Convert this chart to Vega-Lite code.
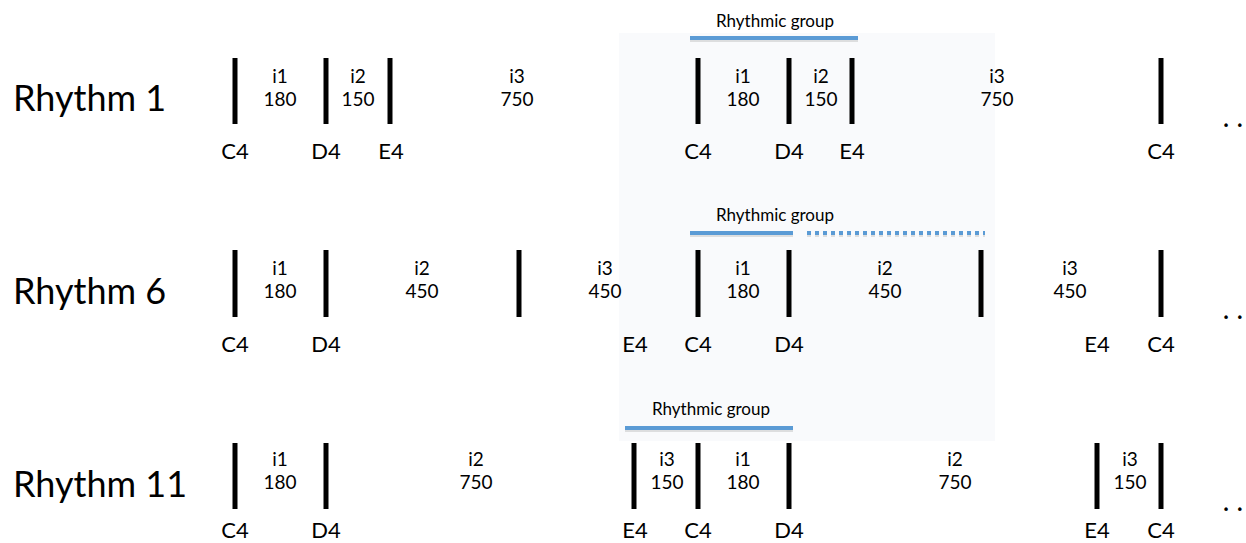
{
  "$schema": "https://vega.github.io/schema/vega-lite/v6.json",
  "autosize": {"type": "fit", "contains": "padding"},
  "width": 1246,
  "height": 543,
  "padding": 0,
  "background": "white",
  "config": {"view": {"stroke": null}, "text": {"font": "Lato"}},
  "datasets": {
    "shade": [{"x": 619, "x2": 995, "y": 33, "y2": 441}],
    "bars": [
      {"row": "Rhythm 1", "x": 235, "y": 58, "y2": 124},
      {"row": "Rhythm 1", "x": 326, "y": 58, "y2": 124},
      {"row": "Rhythm 1", "x": 390, "y": 58, "y2": 124},
      {"row": "Rhythm 1", "x": 698, "y": 58, "y2": 124},
      {"row": "Rhythm 1", "x": 789, "y": 58, "y2": 124},
      {"row": "Rhythm 1", "x": 852, "y": 58, "y2": 124},
      {"row": "Rhythm 1", "x": 1161, "y": 58, "y2": 124},
      {"row": "Rhythm 6", "x": 235, "y": 250, "y2": 317},
      {"row": "Rhythm 6", "x": 326, "y": 250, "y2": 317},
      {"row": "Rhythm 6", "x": 519, "y": 250, "y2": 317},
      {"row": "Rhythm 6", "x": 698, "y": 250, "y2": 317},
      {"row": "Rhythm 6", "x": 789, "y": 250, "y2": 317},
      {"row": "Rhythm 6", "x": 981, "y": 250, "y2": 317},
      {"row": "Rhythm 6", "x": 1161, "y": 250, "y2": 317},
      {"row": "Rhythm 11", "x": 235, "y": 443, "y2": 509},
      {"row": "Rhythm 11", "x": 326, "y": 443, "y2": 509},
      {"row": "Rhythm 11", "x": 634, "y": 443, "y2": 509},
      {"row": "Rhythm 11", "x": 698, "y": 443, "y2": 509},
      {"row": "Rhythm 11", "x": 789, "y": 443, "y2": 509},
      {"row": "Rhythm 11", "x": 1097, "y": 443, "y2": 509},
      {"row": "Rhythm 11", "x": 1161, "y": 443, "y2": 509}
    ],
    "intervals": [
      {"x": 280, "y": 88, "name": "i1", "ms": "180"},
      {"x": 358, "y": 88, "name": "i2", "ms": "150"},
      {"x": 517, "y": 88, "name": "i3", "ms": "750"},
      {"x": 743, "y": 88, "name": "i1", "ms": "180"},
      {"x": 821, "y": 88, "name": "i2", "ms": "150"},
      {"x": 997, "y": 88, "name": "i3", "ms": "750"},
      {"x": 280, "y": 280, "name": "i1", "ms": "180"},
      {"x": 422, "y": 280, "name": "i2", "ms": "450"},
      {"x": 605, "y": 280, "name": "i3", "ms": "450"},
      {"x": 743, "y": 280, "name": "i1", "ms": "180"},
      {"x": 885, "y": 280, "name": "i2", "ms": "450"},
      {"x": 1070, "y": 280, "name": "i3", "ms": "450"},
      {"x": 280, "y": 471, "name": "i1", "ms": "180"},
      {"x": 476, "y": 471, "name": "i2", "ms": "750"},
      {"x": 667, "y": 471, "name": "i3", "ms": "150"},
      {"x": 743, "y": 471, "name": "i1", "ms": "180"},
      {"x": 955, "y": 471, "name": "i2", "ms": "750"},
      {"x": 1130, "y": 471, "name": "i3", "ms": "150"}
    ],
    "notes": [
      {"x": 235, "y": 152, "note": "C4"},
      {"x": 326, "y": 152, "note": "D4"},
      {"x": 391, "y": 152, "note": "E4"},
      {"x": 698, "y": 152, "note": "C4"},
      {"x": 789, "y": 152, "note": "D4"},
      {"x": 852, "y": 152, "note": "E4"},
      {"x": 1161, "y": 152, "note": "C4"},
      {"x": 235, "y": 345, "note": "C4"},
      {"x": 326, "y": 345, "note": "D4"},
      {"x": 635, "y": 345, "note": "E4"},
      {"x": 698, "y": 345, "note": "C4"},
      {"x": 789, "y": 345, "note": "D4"},
      {"x": 1097, "y": 345, "note": "E4"},
      {"x": 1161, "y": 345, "note": "C4"},
      {"x": 235, "y": 531, "note": "C4"},
      {"x": 326, "y": 531, "note": "D4"},
      {"x": 635, "y": 531, "note": "E4"},
      {"x": 698, "y": 531, "note": "C4"},
      {"x": 789, "y": 531, "note": "D4"},
      {"x": 1097, "y": 531, "note": "E4"},
      {"x": 1161, "y": 531, "note": "C4"}
    ],
    "rows": [
      {"x": 13, "y": 100, "label": "Rhythm 1"},
      {"x": 13, "y": 293, "label": "Rhythm 6"},
      {"x": 13, "y": 486, "label": "Rhythm 11"}
    ],
    "groupLines": [
      {"x": 690, "x2": 858, "y": 38, "kind": "solid"},
      {"x": 690, "x2": 793, "y": 233, "kind": "solid"},
      {"x": 807, "x2": 985, "y": 233, "kind": "dotted"},
      {"x": 625, "x2": 793, "y": 428, "kind": "solid"}
    ],
    "groupLabels": [
      {"x": 775, "y": 22, "label": "Rhythmic group"},
      {"x": 775, "y": 216, "label": "Rhythmic group"},
      {"x": 711, "y": 410, "label": "Rhythmic group"}
    ],
    "dots": [
      {"x": 1233, "y": 119, "t": ". ."},
      {"x": 1233, "y": 311, "t": ". ."},
      {"x": 1233, "y": 503, "t": ". ."}
    ]
  },
  "layer": [
    {
      "data": {"name": "shade"},
      "mark": {"type": "rect", "color": "#f9fafc"},
      "encoding": {
        "x": {"field": "x", "type": "quantitative", "scale": {"domain": [0, 1246], "nice": false, "zero": false}, "axis": null},
        "x2": {"field": "x2"},
        "y": {"field": "y", "type": "quantitative", "scale": {"domain": [0, 543], "nice": false, "zero": false, "reverse": true}, "axis": null},
        "y2": {"field": "y2"}
      }
    },
    {
      "data": {"name": "groupLines"},
      "mark": {"type": "rule", "strokeWidth": 4, "color": "#aaaaaa", "opacity": 0.35, "yOffset": 2},
      "encoding": {
        "x": {"field": "x", "type": "quantitative"},
        "x2": {"field": "x2"},
        "y": {"field": "y", "type": "quantitative"},
        "strokeDash": {"field": "kind", "type": "nominal", "scale": {"domain": ["solid", "dotted"], "range": [[1, 0], [4, 4]]}, "legend": null}
      }
    },
    {
      "data": {"name": "groupLines"},
      "mark": {"type": "rule", "strokeWidth": 4, "color": "#5b9bd5"},
      "encoding": {
        "x": {"field": "x", "type": "quantitative"},
        "x2": {"field": "x2"},
        "y": {"field": "y", "type": "quantitative"},
        "strokeDash": {"field": "kind", "type": "nominal", "scale": {"domain": ["solid", "dotted"], "range": [[1, 0], [4, 4]]}, "legend": null}
      }
    },
    {
      "data": {"name": "bars"},
      "mark": {"type": "rule", "strokeWidth": 5, "color": "black"},
      "encoding": {
        "x": {"field": "x", "type": "quantitative"},
        "y": {"field": "y", "type": "quantitative"},
        "y2": {"field": "y2"}
      }
    },
    {
      "data": {"name": "intervals"},
      "mark": {"type": "text", "fontSize": 19, "baseline": "middle", "align": "center", "dy": -11, "color": "black"},
      "encoding": {
        "x": {"field": "x", "type": "quantitative"},
        "y": {"field": "y", "type": "quantitative"},
        "text": {"field": "name"}
      }
    },
    {
      "data": {"name": "intervals"},
      "mark": {"type": "text", "fontSize": 19, "baseline": "middle", "align": "center", "dy": 12, "color": "black"},
      "encoding": {
        "x": {"field": "x", "type": "quantitative"},
        "y": {"field": "y", "type": "quantitative"},
        "text": {"field": "ms"}
      }
    },
    {
      "data": {"name": "notes"},
      "mark": {"type": "text", "fontSize": 22, "baseline": "middle", "align": "center", "color": "black"},
      "encoding": {
        "x": {"field": "x", "type": "quantitative"},
        "y": {"field": "y", "type": "quantitative"},
        "text": {"field": "note"}
      }
    },
    {
      "data": {"name": "rows"},
      "mark": {"type": "text", "fontSize": 36, "baseline": "middle", "align": "left", "color": "black"},
      "encoding": {
        "x": {"field": "x", "type": "quantitative"},
        "y": {"field": "y", "type": "quantitative"},
        "text": {"field": "label"}
      }
    },
    {
      "data": {"name": "groupLabels"},
      "mark": {"type": "text", "fontSize": 17, "baseline": "middle", "align": "center", "color": "black"},
      "encoding": {
        "x": {"field": "x", "type": "quantitative"},
        "y": {"field": "y", "type": "quantitative"},
        "text": {"field": "label"}
      }
    },
    {
      "data": {"name": "dots"},
      "mark": {"type": "text", "fontSize": 28, "baseline": "middle", "align": "center", "color": "black"},
      "encoding": {
        "x": {"field": "x", "type": "quantitative"},
        "y": {"field": "y", "type": "quantitative"},
        "text": {"field": "t"}
      }
    }
  ]
}
